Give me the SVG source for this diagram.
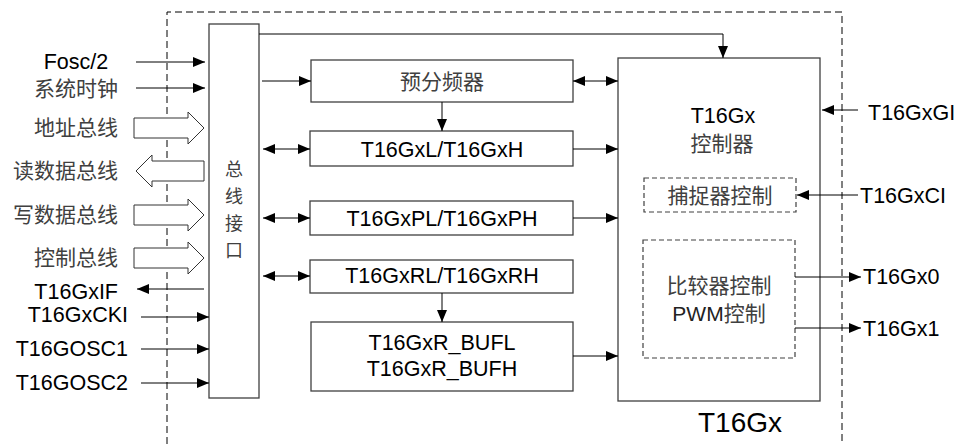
<svg xmlns="http://www.w3.org/2000/svg" width="957" height="444" viewBox="0 0 957 444">
<style>
.box{fill:#fff;stroke:#404040;stroke-width:1.3}
.dash{fill:none;stroke:#404040;stroke-width:1.2;stroke-dasharray:5,3}
.outer{fill:none;stroke:#000;stroke-width:1;stroke-dasharray:7,4}
.ln{fill:none;stroke:#000;stroke-width:1}
.ar{marker-end:url(#ah)}
.da{marker-start:url(#ah);marker-end:url(#ah)}
.blk{fill:#fff;stroke:#333;stroke-width:1}
.en{font-family:"Liberation Sans",Arial,sans-serif;font-size:21.5px;fill:#000}
.zh{font-family:"Noto Sans CJK SC","Liberation Sans",sans-serif;font-size:21px;fill:#404040}
.bz{font-size:18px}
.m{text-anchor:middle}
.e{text-anchor:end}
</style>
<defs>
<marker id="ah" markerUnits="userSpaceOnUse" markerWidth="13" markerHeight="11" refX="12" refY="5" orient="auto-start-reverse" viewBox="0 0 13 11">
<path d="M0,0 L12,5 L0,10 Z" fill="#000"/>
</marker>
</defs>
<rect width="957" height="444" fill="#fff"/>
<g id="outer">
<path class="outer" d="M167,444 V12 H842 V444"/>
<text class="en m" x="740" y="432" style="font-size:28px">T16Gx</text>
</g>
<g id="labels">
<text class="en m" x="76" y="69">Fosc/2</text>
<text class="zh e" x="118" y="96">系统时钟</text>
<text class="zh e" x="118" y="135">地址总线</text>
<text class="zh e" x="118" y="178">读数据总线</text>
<text class="zh e" x="118" y="222">写数据总线</text>
<text class="zh e" x="118" y="265">控制总线</text>
<text class="en e" x="118" y="299">T16GxIF</text>
<text class="en e" x="128" y="322">T16GxCKI</text>
<text class="en e" x="128" y="356">T16GOSC1</text>
<text class="en e" x="128" y="390">T16GOSC2</text>
<text class="en" x="868" y="120">T16GxGI</text>
<text class="en" x="860" y="203">T16GxCI</text>
<text class="en" x="863" y="284">T16Gx0</text>
<text class="en" x="863" y="336">T16Gx1</text>
</g>
<g id="bus">
<rect class="box" x="209" y="24" width="50" height="374"/>
<text class="zh bz m" x="234" y="176">总</text>
<text class="zh bz m" x="234" y="203">线</text>
<text class="zh bz m" x="234" y="230">接</text>
<text class="zh bz m" x="234" y="257">口</text>
</g>
<g id="prescaler">
<rect class="box" x="311" y="60" width="262" height="42"/>
<text class="zh m" x="442" y="89">预分频器</text>
</g>
<g id="txl">
<rect class="box" x="310" y="131" width="263" height="35"/>
<text class="en m" x="442" y="157">T16GxL/T16GxH</text>
</g>
<g id="txpl">
<rect class="box" x="310" y="201" width="263" height="34"/>
<text class="en m" x="442" y="226">T16GxPL/T16GxPH</text>
</g>
<g id="txrl">
<rect class="box" x="310" y="260" width="263" height="33"/>
<text class="en m" x="442" y="283">T16GxRL/T16GxRH</text>
</g>
<g id="txrbuf">
<rect class="box" x="311" y="322" width="262" height="69"/>
<text class="en m" x="442" y="350">T16GxR_BUFL</text>
<text class="en m" x="442" y="376">T16GxR_BUFH</text>
</g>
<g id="controller">
<rect class="box" x="618" y="58" width="202" height="343"/>
<text class="en m" x="723" y="123">T16Gx</text>
<text class="zh m" x="722" y="151">控制器</text>
</g>
<g id="capture">
<rect class="dash" x="644" y="178" width="152" height="34"/>
<text class="zh m" x="720" y="203">捕捉器控制</text>
</g>
<g id="compare">
<rect class="dash" x="643" y="240" width="152" height="118"/>
<text class="zh m" x="719" y="293">比较器控制</text>
<text class="zh m" x="719" y="321"><tspan style="font-family:'Liberation Sans',Arial,sans-serif;fill:#222">PWM</tspan>控制</text>
</g>
<g id="connectors">
<path class="ln ar" d="M136,62 H205"/>
<path class="ln ar" d="M136,88 H205"/>
<path class="ln ar" d="M204,289 H137"/>
<path class="ln ar" d="M141,317 H209"/>
<path class="ln ar" d="M141,349 H209"/>
<path class="ln ar" d="M141,383 H209"/>
<path class="blk" d="M134,118 H188 V112 L204,128 L188,144 V138 H134 Z"/>
<path class="blk" d="M204,161 H152 V155 L136,171 L152,187 V181 H204 Z"/>
<path class="blk" d="M134,205 H188 V199 L204,215 L188,231 V225 H134 Z"/>
<path class="blk" d="M134,248 H188 V242 L204,258 L188,274 V268 H134 Z"/>
<path class="ln ar" d="M259,34 H723 V58"/>
<path class="ln ar" d="M262,81 H311"/>
<path class="ln da" d="M263,149 H310"/>
<path class="ln da" d="M263,218 H310"/>
<path class="ln da" d="M263,276 H310"/>
<path class="ln da" d="M573,81 H618"/>
<path class="ln ar" d="M573,149 H618"/>
<path class="ln ar" d="M573,218 H618"/>
<path class="ln ar" d="M573,356 H618"/>
<path class="ln ar" d="M442,102 V131"/>
<path class="ln ar" d="M442,293 V322"/>
<path class="ln ar" d="M858,110 H822"/>
<path class="ln ar" d="M858,195 H797"/>
<path class="ln ar" d="M795,277 H861"/>
<path class="ln ar" d="M795,328 H861"/>
</g>
</svg>
